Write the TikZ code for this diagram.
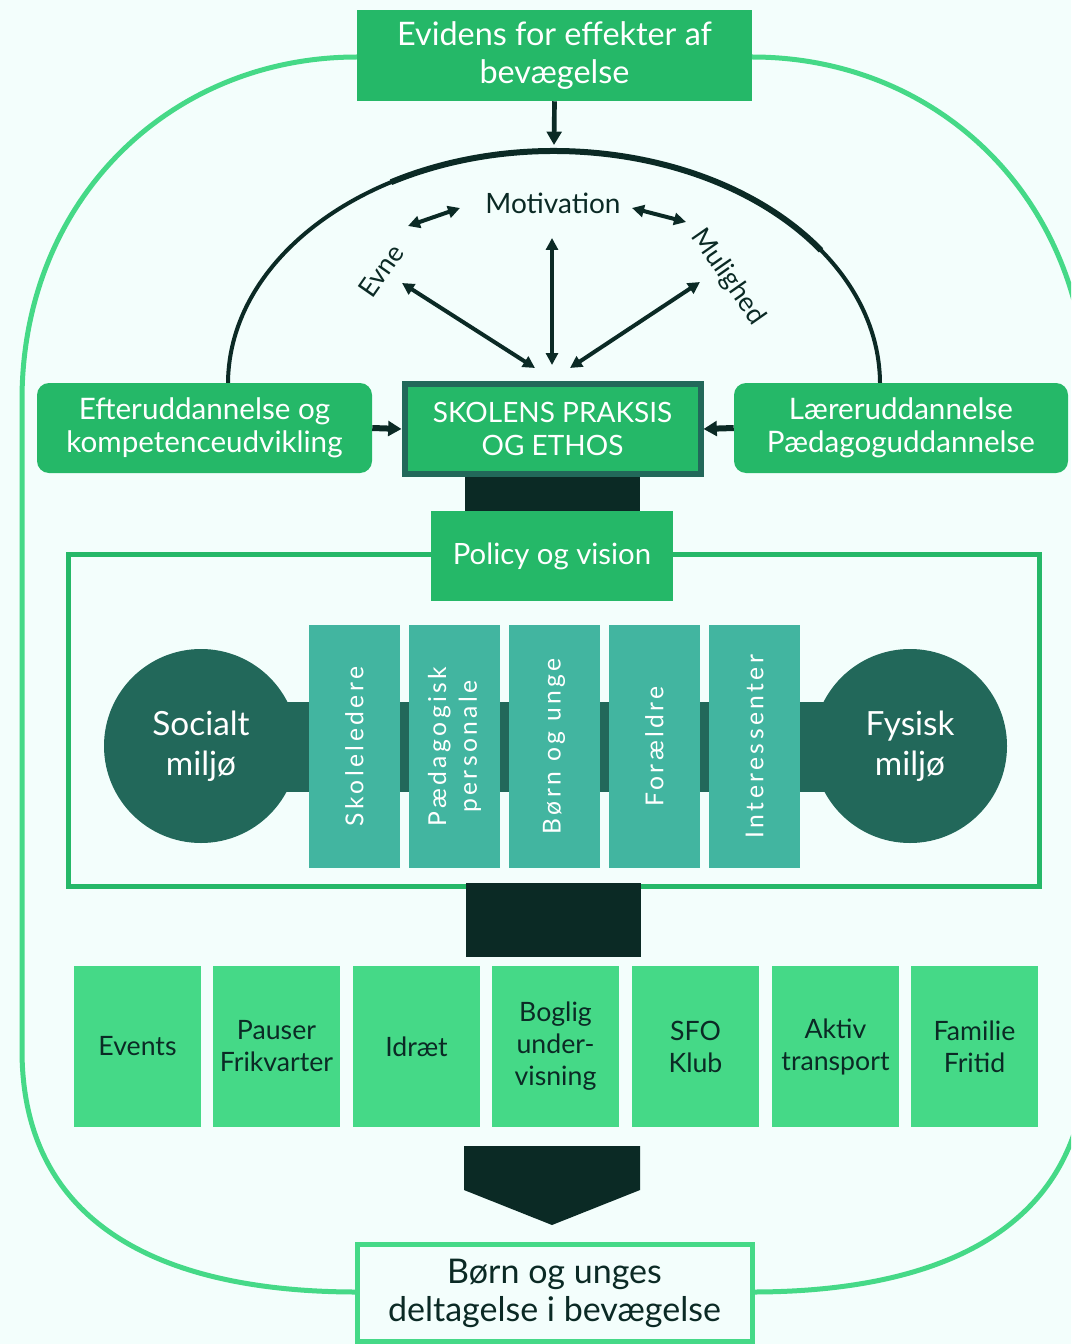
\documentclass[tikz,border=0pt]{standalone}
\usepackage{fontspec}
\setmainfont{Lato}
\newfontfamily\spaced[LetterSpace=14]{Lato}
\usetikzlibrary{arrows.meta}
\definecolor{bgc}{RGB}{243,254,252}
\definecolor{gA}{RGB}{37,184,104}
\definecolor{gB}{RGB}{69,217,135}
\definecolor{dk}{RGB}{11,42,37}
\definecolor{tD}{RGB}{34,104,90}
\definecolor{tM}{RGB}{66,181,160}
\begin{document}
\begin{tikzpicture}[x=0.75pt,y=-0.75pt,
  gbox/.style={fill=gA,text=white,align=center,inner sep=0pt},
  rowbox/.style={fill=gB,text=dk,align=center,inner sep=0pt,minimum width=95.25pt,minimum height=120.75pt,font=\fontsize{20}{24}\selectfont},
  vbox/.style={fill=tM,text=white,align=center,inner sep=0pt,minimum width=68.25pt,minimum height=182.25pt},
  vtxt/.style={rotate=90,text=white,align=center,font=\spaced\fontsize{18.5}{23}\selectfont},
  circ/.style={circle,fill=tD,text=white,align=center,minimum size=145.5pt,inner sep=0pt,font=\fontsize{25}{30}\selectfont},
  dbl/.style={draw=dk,line width=3pt,{Triangle[length=9pt,width=9pt]}-{Triangle[length=9pt,width=9pt]}},
  sgl/.style={draw=dk,line width=3.5pt,-{Triangle[length=10pt,width=11pt]}},
  lbl/.style={text=dk,inner sep=1pt}
]
\useasboundingbox (0,0) rectangle (1071,1344);
\clip (0,0) rectangle (1071,1344);
\fill[bgc] (0,0) rectangle (1071,1344);

% outer frame
\draw[gB,line width=3.75pt] (357,57) .. controls (170,57) and (22,200) .. (22,400) -- (22,1050) .. controls (22,1230) and (170,1292) .. (357,1292);
\draw[gB,line width=3.75pt] (752,57) .. controls (939,57) and (1087,200) .. (1087,400) -- (1087,1050) .. controls (1087,1230) and (939,1292) .. (752,1292);

% dome
\draw[dk,line width=3pt] (228,384) arc[start angle=180,end angle=360,x radius=326,y radius=233];
\draw[dk,line width=4.5pt] (554,384) ++(240:326 and 233) arc[start angle=240,end angle=325,x radius=326,y radius=233];

% top box
\node[gbox,minimum width=296.25pt,minimum height=68.25pt,font=\fontsize{24.3}{28.5}\selectfont] (evid) at (554.5,55.5) {Evidens for effekter af\\bevægelse};
\coordinate (dtop) at (554,145);
\draw[sgl] (evid.south) -- (dtop);

% middle row of boxes
\node[gbox,rounded corners=9pt,minimum width=251.25pt,minimum height=67.5pt,font=\fontsize{22.2}{25}\selectfont] (eft) at (204.5,428) {Efteruddannelse og\\kompetenceudvikling};
\node[gbox,rounded corners=9pt,minimum width=250.5pt,minimum height=67.5pt,font=\fontsize{22.2}{25}\selectfont] (laer) at (901,428) {Læreruddannelse\\Pædagoguddannelse};
\fill[dk] (465,470) rectangle (640,513);
\node[gbox,draw=tD,line width=4.5pt,minimum width=222pt,minimum height=67pt,font=\fontsize{21}{25}\selectfont] (skol) at (552.5,429) {SKOLENS PRAKSIS\\OG ETHOS};
\draw[sgl,line width=4.5pt] (eft.east) -- (skol.west);
\draw[sgl,line width=4.5pt] (laer.west) -- (skol.east);

% motivation triangle
\node[lbl,font=\fontsize{21}{24}\selectfont] (mot) at (553,203) {Motivation};
\node[lbl,rotate=55,font=\fontsize{20}{22}\selectfont] (evne) at (381,271) {Evne};
\node[lbl,rotate=-55,font=\fontsize{20}{22}\selectfont] (mul) at (728,277) {Mulighed};
\coordinate (a1) at (408,226); \coordinate (a2) at (460,208);
\coordinate (b1) at (632,208); \coordinate (b2) at (686,222);
\coordinate (c1) at (402,283); \coordinate (c2) at (535,368);
\coordinate (d1) at (552,238); \coordinate (d2) at (552,365);
\coordinate (e1) at (700,282); \coordinate (e2) at (570,368);
\draw[dbl] (a1) -- (a2);
\draw[dbl] (b1) -- (b2);
\draw[dbl] (c1) -- (c2);
\draw[dbl] (d1) -- (d2);
\draw[dbl] (e1) -- (e2);

% policy frame
\draw[gA,line width=3.75pt] (68,554) rectangle (1039,886);
\node[gbox,minimum width=181.5pt,minimum height=67.5pt,font=\fontsize{22}{25}\selectfont] (pol) at (552,556) {Policy og vision};

% inner bar
\fill[tD] (201,702) rectangle (910,792);
\node[circ] (soc) at (201,746) {Socialt\\miljø};
\node[circ] (fys) at (910,746) {Fysisk\\miljø};
\node[vbox] (v1) at (354.5,746.5) {};
\node[vbox] (v2) at (454.5,746.5) {};
\node[vbox] (v3) at (554,746.5) {};
\node[vbox] (v4) at (654.5,746.5) {};
\node[vbox] (v5) at (754.5,746.5) {};
\node[vtxt] at (v1) {Skoleledere};
\node[vtxt] at (v2) {Pædagogisk\\personale};
\node[vtxt] at (v3) {Børn og unge};
\node[vtxt] at (v4) {Forældre};
\node[vtxt] at (v5) {Interessenter};

% connector block
\fill[dk] (466,883) rectangle (641,957);

% bottom row
\node[rowbox] (r1) at (137.5,1046.5) {Events};
\node[rowbox] (r2) at (276.5,1046.5) {Pauser\\Frikvarter};
\node[rowbox] (r3) at (416.5,1046.5) {Idræt};
\node[rowbox] (r4) at (555.5,1046.5) {Boglig\\under-\\visning};
\node[rowbox] (r5) at (695.5,1046.5) {SFO\\Klub};
\node[rowbox] (r6) at (835.5,1046.5) {Aktiv\\transport};
\node[rowbox] (r7) at (974.5,1046.5) {Familie\\Fritid};

% big arrow
\fill[dk] (464,1146) -- (640,1146) -- (640,1190) -- (552,1225) -- (464,1190) -- cycle;

% result box
\node[draw=gB,line width=3.75pt,fill=bgc,text=dk,align=center,minimum width=296.25pt,minimum height=72.75pt,inner sep=0pt,font=\fontsize{25.5}{28.5}\selectfont] (res) at (554.5,1293) {Børn og unges\\deltagelse i bevægelse};
\end{tikzpicture}
\end{document}
